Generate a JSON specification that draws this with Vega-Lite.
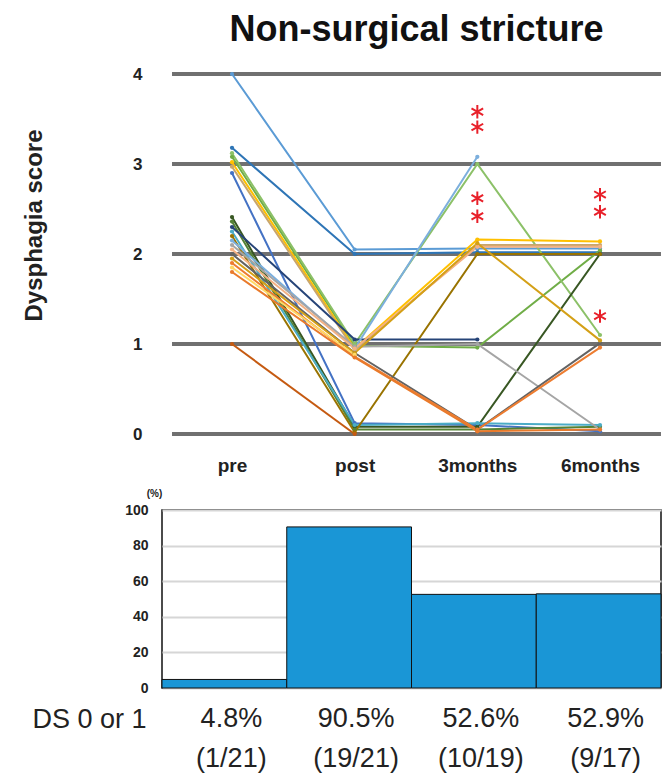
{
  "$schema": "https://vega.github.io/schema/vega-lite/v6.json",
  "background": "white",
  "padding": {"left": 22, "top": 12, "right": 0, "bottom": 0},
  "spacing": 12,
  "config": {"font": "Liberation Sans", "view": {"stroke": null}},
  "datasets": {
    "grid": [{"s": 0}, {"s": 1}, {"s": 2}, {"s": 3}, {"s": 4}],
    "stars": [
      {"t": 2, "s": 3.58}, {"t": 2, "s": 3.41},
      {"t": 2, "s": 2.62}, {"t": 2, "s": 2.42},
      {"t": 3, "s": 2.66}, {"t": 3, "s": 2.47},
      {"t": 3, "s": 1.31}
    ],
    "scores": [
      {"p": "P1", "t": 0, "s": 4.0}, {"p": "P1", "t": 1, "s": 2.05}, {"p": "P1", "t": 2, "s": 2.06}, {"p": "P1", "t": 3, "s": 2.06},
      {"p": "P2", "t": 0, "s": 3.18}, {"p": "P2", "t": 1, "s": 2.0}, {"p": "P2", "t": 2, "s": 2.02}, {"p": "P2", "t": 3, "s": 2.02},
      {"p": "P3", "t": 0, "s": 3.08}, {"p": "P3", "t": 1, "s": 0.98}, {"p": "P3", "t": 2, "s": 0.96}, {"p": "P3", "t": 3, "s": 2.04},
      {"p": "P4", "t": 0, "s": 3.12}, {"p": "P4", "t": 1, "s": 1.0}, {"p": "P4", "t": 2, "s": 3.0}, {"p": "P4", "t": 3, "s": 1.1},
      {"p": "P5", "t": 0, "s": 3.02}, {"p": "P5", "t": 1, "s": 0.95}, {"p": "P5", "t": 2, "s": 2.16}, {"p": "P5", "t": 3, "s": 2.14},
      {"p": "P6", "t": 0, "s": 2.97}, {"p": "P6", "t": 1, "s": 0.93}, {"p": "P6", "t": 2, "s": 2.1}, {"p": "P6", "t": 3, "s": 2.1},
      {"p": "P7", "t": 0, "s": 2.9}, {"p": "P7", "t": 1, "s": 0.12}, {"p": "P7", "t": 2, "s": 0.1}, {"p": "P7", "t": 3, "s": 0.03},
      {"p": "P8", "t": 0, "s": 2.41}, {"p": "P8", "t": 1, "s": 0.08}, {"p": "P8", "t": 2, "s": 0.08}, {"p": "P8", "t": 3, "s": 2.0},
      {"p": "P9", "t": 0, "s": 2.36}, {"p": "P9", "t": 1, "s": 0.05}, {"p": "P9", "t": 2, "s": 0.05}, {"p": "P9", "t": 3, "s": 0.08},
      {"p": "P10", "t": 0, "s": 2.3}, {"p": "P10", "t": 1, "s": 1.05}, {"p": "P10", "t": 2, "s": 1.05},
      {"p": "P11", "t": 0, "s": 2.25}, {"p": "P11", "t": 1, "s": 0.1}, {"p": "P11", "t": 2, "s": 0.12}, {"p": "P11", "t": 3, "s": 0.1},
      {"p": "P12", "t": 0, "s": 2.2}, {"p": "P12", "t": 1, "s": 0.02}, {"p": "P12", "t": 2, "s": 2.0}, {"p": "P12", "t": 3, "s": 2.0},
      {"p": "P13", "t": 0, "s": 2.15}, {"p": "P13", "t": 1, "s": 0.95}, {"p": "P13", "t": 2, "s": 3.08},
      {"p": "P14", "t": 0, "s": 2.1}, {"p": "P14", "t": 1, "s": 0.97}, {"p": "P14", "t": 2, "s": 1.0}, {"p": "P14", "t": 3, "s": 0.05},
      {"p": "P15", "t": 0, "s": 2.05}, {"p": "P15", "t": 1, "s": 0.95}, {"p": "P15", "t": 2, "s": 2.08}, {"p": "P15", "t": 3, "s": 2.08},
      {"p": "P16", "t": 0, "s": 2.0}, {"p": "P16", "t": 1, "s": 0.9}, {"p": "P16", "t": 2, "s": 0.05}, {"p": "P16", "t": 3, "s": 1.01},
      {"p": "P17", "t": 0, "s": 1.95}, {"p": "P17", "t": 1, "s": 0.9}, {"p": "P17", "t": 2, "s": 2.12}, {"p": "P17", "t": 3, "s": 1.04},
      {"p": "P18", "t": 0, "s": 1.9}, {"p": "P18", "t": 1, "s": 0.86}, {"p": "P18", "t": 2, "s": 0.05}, {"p": "P18", "t": 3, "s": 0.96},
      {"p": "P19", "t": 0, "s": 1.85}, {"p": "P19", "t": 1, "s": 0.88},
      {"p": "P20", "t": 0, "s": 1.8}, {"p": "P20", "t": 1, "s": 0.85}, {"p": "P20", "t": 2, "s": 0.03}, {"p": "P20", "t": 3, "s": 0.05},
      {"p": "P21", "t": 0, "s": 1.0}, {"p": "P21", "t": 1, "s": 0.0}
    ],
    "bars": [
      {"t": "pre", "pct": 4.8, "label": "4.8%", "frac": "(1/21)"},
      {"t": "post", "pct": 90.5, "label": "90.5%", "frac": "(19/21)"},
      {"t": "3months", "pct": 52.6, "label": "52.6%", "frac": "(10/19)"},
      {"t": "6months", "pct": 52.9, "label": "52.9%", "frac": "(9/17)"}
    ]
  },
  "vconcat": [
    {
      "width": 499,
      "height": 360,
      "view": {"stroke": null},
      "title": {
        "text": "Non-surgical stricture",
        "fontSize": 36,
        "font": "Liberation Sans",
        "fontWeight": "bold",
        "color": "#111111",
        "anchor": "middle",
        "offset": 16,
        "dx": 5
      },
      "layer": [
        {
          "data": {"name": "grid"},
          "mark": {"type": "rule", "color": "#707070", "strokeWidth": 4},
          "encoding": {
            "y": {
              "field": "s",
              "type": "quantitative",
              "scale": {"domain": [0, 4], "nice": false, "zero": false},
              "axis": {
                "values": [0, 1, 2, 3, 4],
                "format": "d",
                "grid": false,
                "domain": false,
                "ticks": false,
                "tickSize": 0,
                "labelPadding": 20,
                "labelFontSize": 17,
                "labelFontWeight": "bold",
                "labelColor": "#222222",
                "title": "Dysphagia score",
                "titleFontSize": 24,
                "titleFontWeight": "bold",
                "titleColor": "#222222",
                "titlePadding": 86,
                "titleY": 151
              }
            },
            "x": {"datum": -0.489, "type": "quantitative"},
            "x2": {"datum": 3.497}
          }
        },
        {
          "data": {"name": "scores"},
          "mark": {"type": "line", "strokeWidth": 2, "point": {"size": 18, "filled": true}},
          "encoding": {
            "x": {
              "field": "t",
              "type": "quantitative",
              "scale": {"domain": [-0.5707, 3.4973], "nice": false, "zero": false},
              "axis": {
                "values": [0, 1, 2, 3],
                "labelExpr": "['pre','post','3months','6months'][datum.value]",
                "grid": false,
                "domain": false,
                "ticks": false,
                "tickSize": 0,
                "labelPadding": 22,
                "labelFontSize": 19,
                "labelFontWeight": "bold",
                "labelColor": "#222222",
                "title": null
              }
            },
            "y": {"field": "s", "type": "quantitative"},
            "color": {
              "field": "p",
              "type": "nominal",
              "legend": null,
              "scale": {
                "domain": ["P1","P2","P3","P4","P5","P6","P7","P8","P9","P10","P11","P12","P13","P14","P15","P16","P17","P18","P19","P20","P21"],
                "range": ["#5b9bd5","#2e75b6","#70ad47","#8cc168","#ffc000","#c9a66b","#4472c4","#385723","#548235","#264478","#4bacc6","#997300","#7cafdd","#a5a5a5","#f4b183","#636363","#d4a017","#ed7d31","#ffd966","#e97a2b","#c55a11"]
              }
            }
          }
        },
        {
          "data": {"name": "stars"},
          "mark": {
            "type": "point",
            "shape": "M0,-1L0,1M-0.87,-0.5L0.87,0.5M-0.87,0.5L0.87,-0.5",
            "size": 180,
            "stroke": "#e8202a",
            "strokeWidth": 2,
            "filled": false,
            "opacity": 1
          },
          "encoding": {
            "x": {"field": "t", "type": "quantitative"},
            "y": {"field": "s", "type": "quantitative"}
          }
        }
      ]
    },
    {
      "width": 499,
      "height": 178,
      "view": {"stroke": "#111111", "strokeWidth": 1.5},
      "data": {"name": "bars"},
      "encoding": {
        "x": {
          "field": "t",
          "type": "ordinal",
          "sort": ["pre", "post", "3months", "6months"],
          "scale": {"paddingInner": 0, "paddingOuter": 0},
          "axis": {
            "labels": false,
            "ticks": false,
            "domain": false,
            "title": "DS 0 or 1",
            "titleFontSize": 27,
            "titleFontWeight": "normal",
            "titleColor": "#222222",
            "titleX": -16,
            "titleY": 39,
            "titleAlign": "right",
            "titleBaseline": "alphabetic"
          }
        }
      },
      "layer": [
        {
          "mark": {"type": "bar", "fill": "#1a96d6", "stroke": "#111111", "strokeWidth": 1},
          "encoding": {
            "y": {
              "field": "pct",
              "type": "quantitative",
              "scale": {"domain": [0, 100], "nice": false},
              "axis": {
                "values": [0, 20, 40, 60, 80, 100],
                "labelOverlap": false,
                "grid": true,
                "gridColor": "#d6d6d6",
                "gridWidth": 2,
                "domain": false,
                "ticks": false,
                "tickSize": 0,
                "labelPadding": 14,
                "labelFontSize": 14,
                "labelFontWeight": "bold",
                "labelColor": "#222222",
                "title": "(%)",
                "titleAngle": 0,
                "titleFontSize": 10,
                "titleFontWeight": "bold",
                "titleColor": "#222222",
                "titleX": -8,
                "titleY": -17,
                "titleAlign": "center",
                "titleBaseline": "middle"
              }
            }
          }
        },
        {
          "mark": {"type": "text", "fontSize": 27, "color": "#222222", "baseline": "alphabetic", "dx": 7},
          "encoding": {
            "y": {
              "datum": -21.9,
              "type": "quantitative",
              "axis": {
                "values": [0, 20, 40, 60, 80, 100],
                "labelOverlap": false,
                "grid": true,
                "gridColor": "#d6d6d6",
                "gridWidth": 2,
                "domain": false,
                "ticks": false,
                "tickSize": 0,
                "labelPadding": 14,
                "labelFontSize": 14,
                "labelFontWeight": "bold",
                "labelColor": "#222222",
                "title": "(%)",
                "titleAngle": 0,
                "titleFontSize": 10,
                "titleFontWeight": "bold",
                "titleColor": "#222222",
                "titleX": -8,
                "titleY": -17,
                "titleAlign": "center",
                "titleBaseline": "middle"
              }
            },
            "text": {"field": "label"}
          }
        },
        {
          "mark": {"type": "text", "fontSize": 27, "color": "#222222", "baseline": "alphabetic", "dx": 7},
          "encoding": {
            "y": {
              "datum": -44.4,
              "type": "quantitative",
              "axis": {
                "values": [0, 20, 40, 60, 80, 100],
                "labelOverlap": false,
                "grid": true,
                "gridColor": "#d6d6d6",
                "gridWidth": 2,
                "domain": false,
                "ticks": false,
                "tickSize": 0,
                "labelPadding": 14,
                "labelFontSize": 14,
                "labelFontWeight": "bold",
                "labelColor": "#222222",
                "title": "(%)",
                "titleAngle": 0,
                "titleFontSize": 10,
                "titleFontWeight": "bold",
                "titleColor": "#222222",
                "titleX": -8,
                "titleY": -17,
                "titleAlign": "center",
                "titleBaseline": "middle"
              }
            },
            "text": {"field": "frac"}
          }
        }
      ]
    }
  ]
}
